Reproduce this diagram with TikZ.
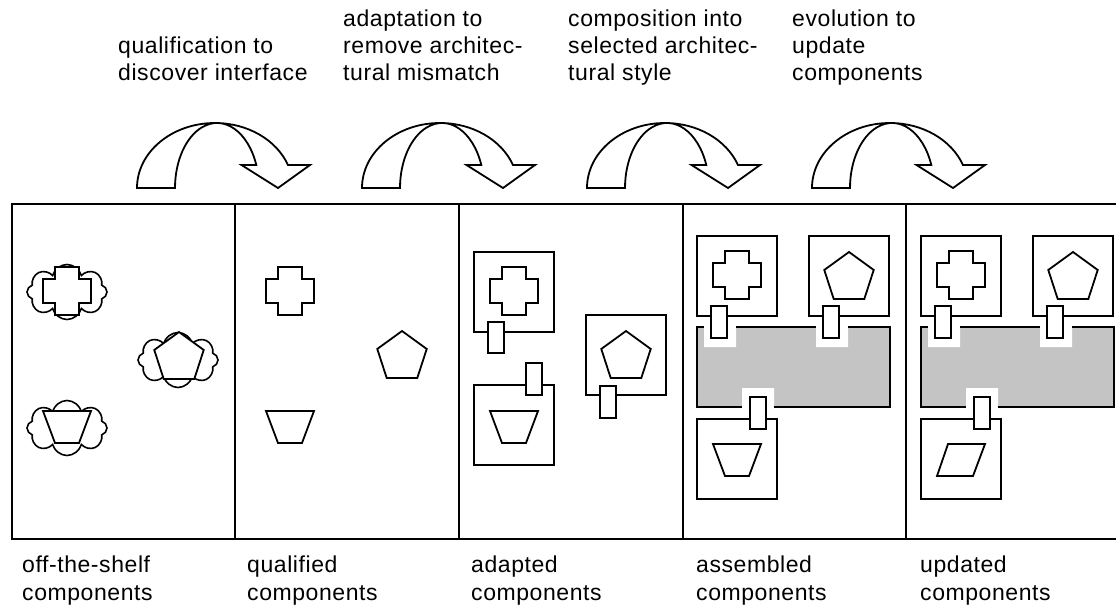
\documentclass[tikz,border=0pt]{standalone}
\usepackage{fontspec}
\setmainfont{Liberation Sans}
\usetikzlibrary{shapes.symbols}

\tikzset{
  part/.style={line width=1.8pt, fill=white},
  panel/.style={line width=2.4pt},
  lbl/.style={anchor=north west, inner sep=0pt, align=left,
    font=\fontsize{23}{27}\selectfont\addfontfeature{LetterSpace=2.5}},
  stage/.style={lbl, font=\fontsize{23}{28}\selectfont\addfontfeature{LetterSpace=2.5}},
  blob/.style={cloud, draw, line width=1.6pt, cloud puffs=8, cloud ignores aspect,
    minimum width=80pt, minimum height=55pt, inner sep=0pt, outer sep=0pt},
  pics/plus/.style={code={
    \draw[part] (-24,-12) -- (-12,-12) -- (-12,-24) -- (12,-24) -- (12,-12) -- (24,-12)
      -- (24,12) -- (12,12) -- (12,24) -- (-12,24) -- (-12,12) -- (-24,12) -- cycle;}},
  pics/penta/.style={code={
    \draw[part] (-90:26) -- (-18:26) -- (54:26) -- (126:26) -- (198:26) -- cycle;}},
  pics/trap/.style={code={
    \draw[part] (-24,-16) -- (24,-16) -- (12,16) -- (-12,16) -- cycle;}},
  pics/rhomb/.style={code={
    \draw[part] (-13,-16) -- (24,-16) -- (12,16) -- (-24,16) -- cycle;}},
  pics/bend/.style={code={
    \draw[part] (0,0) arc[start angle=180, end angle=339.3, x radius=78, y radius=65]
      -- (173,-23) -- (141,0) -- (104.5,-23) -- (119.3,-23)
      arc[start angle=339.3, end angle=180, x radius=42, y radius=65] -- cycle;}},
}

\begin{document}
\begin{tikzpicture}[x=1pt, y=-1pt]
  \useasboundingbox (0,0) rectangle (1116,611);

  % the four steps
  \foreach \k in {0,...,3}
    \pic at ({137+225*\k},188) {bend}; % curved arrows
  \node[lbl] (qual) at (118,37) {qualification to\\discover interface};
  \node[lbl] (adapt) at (343,10) {adaptation to\\remove architec-\\tural mismatch};
  \node[lbl] (comp) at (568,10) {composition into\\selected architec-\\tural style};
  \node[lbl] (evol) at (792,10) {evolution to\\update\\components};

  % off-the-shelf
  \node[blob] (cl1) at (67,292) {};
  \node[blob] (cl2) at (178,360) {};
  \node[blob] (cl3) at (67,428) {};
  \pic at (67,291) {plus};
  \pic at (179,358) {penta};
  \pic at (67,427) {trap};

  % qualified
  \pic at (290,291) {plus};
  \pic at (402,357) {penta};
  \pic at (290,427) {trap};

  % adapted
  \draw[part] (474,252) rectangle (554,332);
  \pic at (514,291) {plus};
  \draw[part] (488,322) rectangle (504,353); % plug
  \draw[part] (586,315) rectangle (666,395);
  \pic at (626,357) {penta};
  \draw[part] (600,386) rectangle (616,418); % plug
  \draw[part] (474,385) rectangle (554,465);
  \pic at (514,427) {trap};
  \draw[part] (526,363) rectangle (542,395); % plug

  % assembled and updated
  \foreach \dx/\shp in {0/trap,224/rhomb} {
    \begin{scope}[xshift=\dx]
      \fill[black!23] (697,327) rectangle (890,407); % style
      \fill[white] (704,326) rectangle (736,347) (816,326) rectangle (848,347)
        (742,388) rectangle (774,408);
      \draw[line width=1.8pt] (704,327) -- (697,327) -- (697,407) -- (742,407)
        (774,407) -- (890,407) -- (890,327) -- (848,327) (816,327) -- (736,327);
      \draw[part] (697,236) rectangle (777,316);
      \pic at (737,275) {plus};
      \draw[part] (711,306) rectangle (727,338); % plug
      \draw[part] (809,236) rectangle (889,316);
      \pic at (849,278) {penta};
      \draw[part] (823,306) rectangle (839,338); % plug
      \draw[part] (697,419) rectangle (777,499);
      \pic at (737,460) {\shp};
      \draw[part] (750,397) rectangle (766,429); % plug
    \end{scope}
  }

  % frame
  \draw[panel] (12,204) rectangle (1118,539);
  \foreach \x in {235,459,683,906}
    \draw[panel] (\x,204) -- (\x,539);

  % names of the stages
  \node[stage] (shelf) at (22,556) {off-the-shelf\\components};
  \node[stage] (qualified) at (247,556) {qualified\\components};
  \node[stage] (adapted) at (471,556) {adapted\\components};
  \node[stage] (assembled) at (696,556) {assembled\\components};
  \node[stage] (updated) at (920,556) {updated\\components};
\end{tikzpicture}
\end{document}
